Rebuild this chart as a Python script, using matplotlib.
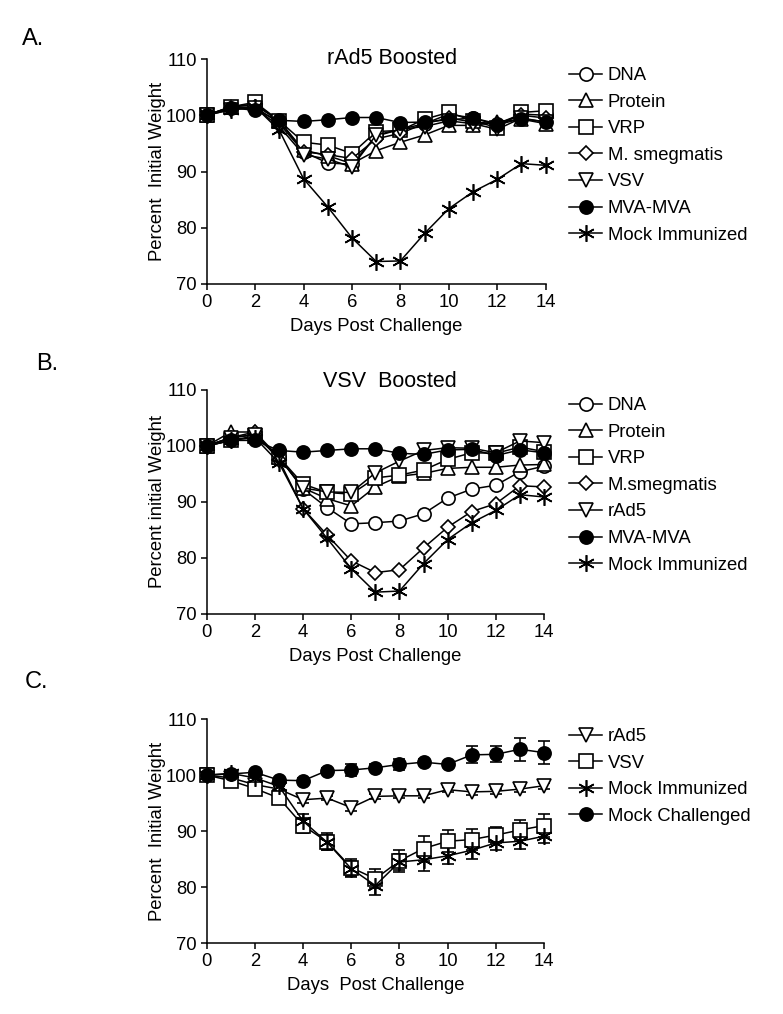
import matplotlib
matplotlib.use("Agg")
import matplotlib.pyplot as plt

plt.rcParams['font.family'] = ['Liberation Sans', 'DejaVu Sans']

days = list(range(15))

# panel A: rAd5 boosted
a_labels = ["DNA", "Protein", "VRP", "M. smegmatis", "VSV", "MVA-MVA", "Mock Immunized"]
a_dna = [100, 101.5, 101.8, 99, 93.5, 91.5, 91.3, 96.3, 97.5, 98.5, 100.2, 99.5, 98.5, 100.2, 100]
a_protein = [100, 101.5, 102, 99, 93.8, 92.8, 91.4, 93.7, 95.2, 96.5, 98.2, 98.2, 98.8, 99.3, 98.5]
a_vrp = [100, 101.5, 102.3, 99, 95.2, 94.7, 93.2, 97.1, 97.3, 99.3, 100.5, 99.0, 97.8, 100.5, 100.8]
a_smeg = [100, 101.3, 101.5, 98.5, 93.5, 93.0, 92.3, 95.8, 96.8, 98.5, 99.5, 98.8, 98.5, 100, 99.5]
a_vsv = [100, 101, 101.3, 98, 93, 92.2, 90.8, 96.5, 97.5, 98, 99, 98.5, 97.5, 99.5, 98.8]
a_mva = [100, 101.3, 100.9, 99.1, 98.9, 99.2, 99.6, 99.6, 98.7, 98.8, 99.2, 99.5, 98.3, 99.4, 98.8]
a_mock = [100, 101, 101.5, 97.3, 88.7, 83.7, 78.2, 74.0, 74.1, 79.0, 83.4, 86.4, 88.6, 91.4, 91.1]

# panel B: VSV boosted
b_labels = ["DNA", "Protein", "VRP", "M.smegmatis", "rAd5", "MVA-MVA", "Mock Immunized"]
b_dna = [100, 101.5, 102, 98, 92.3, 89.0, 86.1, 86.3, 86.6, 87.9, 90.7, 92.3, 93.0, 95.4, 96.4]
b_protein = [100, 102.5, 102.5, 98, 92.5, 90.6, 89.3, 92.7, 94.6, 95.1, 96.0, 96.2, 96.2, 96.6, 96.7]
b_vrp = [100, 101, 101.8, 98, 93.2, 91.7, 91.4, 94.3, 94.8, 95.7, 97.6, 98.8, 98.7, 99.8, 99.0]
b_smeg = [100, 101.5, 102.5, 97.5, 88.8, 84.1, 79.5, 77.4, 77.9, 81.8, 85.5, 88.3, 89.7, 92.9, 92.7]
b_rad5 = [100, 101.5, 102, 98, 92.5, 91.8, 91.7, 95.2, 97.3, 99.2, 99.7, 99.6, 98.8, 100.9, 100.6]
b_mva = [100, 101, 101, 99.2, 98.9, 99.2, 99.5, 99.5, 98.7, 98.5, 99.3, 99.4, 98.3, 99.3, 98.8]
b_mock = [100, 101, 101.5, 97, 88.8, 83.5, 78.1, 73.9, 74.1, 79.0, 83.3, 86.3, 88.5, 91.3, 90.9]

# panel C: means with error bars
c_labels = ["rAd5", "VSV", "Mock Immunized", "Mock Challenged"]
c_rad5 = [100, 99.5, 98.3, 97.5, 95.6, 95.9, 94.2, 96.2, 96.3, 96.3, 97.4, 97.0, 97.1, 97.5, 98.1]
c_rad5_err = [0.3, 0.4, 0.4, 0.5, 0.5, 0.4, 0.6, 0.5, 0.4, 0.4, 0.5, 0.5, 0.4, 0.5, 0.5]
c_vsv = [100, 99.0, 97.6, 95.9, 91.0, 88.1, 83.5, 81.5, 84.7, 86.9, 88.2, 88.5, 89.3, 90.2, 91.0]
c_vsv_err = [0.3, 0.4, 0.6, 0.8, 1.4, 1.5, 1.5, 1.7, 2.0, 2.2, 2.0, 1.9, 1.5, 1.8, 2.0]
c_mock = [100, 100.3, 99.5, 98.0, 91.8, 88.0, 83.3, 80.3, 84.5, 84.9, 85.6, 86.6, 87.9, 88.2, 89.1]
c_mock_err = [0.3, 0.4, 0.5, 0.7, 1.2, 1.3, 1.4, 1.6, 1.5, 2.0, 1.5, 1.5, 1.2, 1.3, 1.2]
c_chal = [100, 100.2, 100.5, 99.1, 99.0, 100.8, 100.9, 101.3, 101.9, 102.3, 101.9, 103.6, 103.7, 104.6, 104.0]
c_chal_err = [0.3, 0.4, 0.4, 0.4, 0.4, 0.5, 1.1, 0.6, 1.0, 0.5, 0.5, 1.5, 1.4, 2.1, 2.0]

FS = 13.3
MS = 9.5
ASTER = (6, 2, 0)

W, H = 783, 1014
fig = plt.figure(figsize=(W / 100, H / 100), dpi=100)


def px_axes(x0, x1, y_top, y_bot):
    return fig.add_axes([x0 / W, 1 - y_bot / H, (x1 - x0) / W, (y_bot - y_top) / H])


def style(ax, ylabel, xlabel):
    ax.set_xlim(0, 14)
    ax.set_ylim(70, 110)
    ax.set_xticks(range(0, 15, 2))
    ax.set_yticks([70, 80, 90, 100, 110])
    for s in ("top", "right"):
        ax.spines[s].set_visible(False)
    for s in ("left", "bottom"):
        ax.spines[s].set_linewidth(1.1)
    ax.tick_params(direction="out", length=4, width=1.1, labelsize=FS, pad=3)
    ax.set_ylabel(ylabel, fontsize=FS)
    ax.set_xlabel(xlabel, fontsize=FS, labelpad=5)
    ax.yaxis.set_label_coords(-0.12, 0.5)


def line(ax, y, marker, label, filled=False, ms=MS):
    ax.plot(days, y, marker=marker, color="black", lw=1.1, ms=ms,
            mfc="black" if filled else "white", mec="black", mew=1.2,
            label=label, clip_on=False)


def legend(ax, ytop, handles=None):
    kw = dict(loc="upper left", bbox_to_anchor=(569 / W, 1 - ytop / H),
              bbox_transform=fig.transFigure, frameon=False, fontsize=FS,
              handlelength=1.8, handletextpad=0.3, labelspacing=0.52,
              borderpad=0, borderaxespad=0, numpoints=1)
    if handles is not None:
        ax.legend(handles=handles, **kw)
    else:
        ax.legend(**kw)


# A
ax = px_axes(206.7, 545.7, 59, 284)
line(ax, a_dna, "o", a_labels[0])
line(ax, a_protein, "^", a_labels[1])
line(ax, a_vrp, "s", a_labels[2])
line(ax, a_smeg, "D", a_labels[3], ms=7.5)
line(ax, a_vsv, "v", a_labels[4])
line(ax, a_mva, "o", a_labels[5], filled=True)
line(ax, a_mock, ASTER, a_labels[6], ms=12)
style(ax, "Percent  Initial Weight", "Days Post Challenge")
legend(ax, 67)
fig.text(392 / W, 1 - 58 / H, "rAd5 Boosted", fontsize=15.5, ha="center", va="center")
fig.text(22 / W, 1 - 39 / H, "A.", fontsize=17, ha="left", va="center")

# B
ax = px_axes(206.7, 544, 390, 614)
line(ax, b_dna, "o", b_labels[0])
line(ax, b_protein, "^", b_labels[1])
line(ax, b_vrp, "s", b_labels[2])
line(ax, b_smeg, "D", b_labels[3], ms=7.5)
line(ax, b_rad5, "v", b_labels[4])
line(ax, b_mva, "o", b_labels[5], filled=True)
line(ax, b_mock, ASTER, b_labels[6], ms=12)
style(ax, "Percent initial Weight", "Days Post Challenge")
legend(ax, 397)
fig.text(390 / W, 1 - 382 / H, "VSV  Boosted", fontsize=15.5, ha="center", va="center")
fig.text(36 / W, 1 - 364.5 / H, "B.", fontsize=17, ha="left", va="center")

# C
ax = px_axes(206.7, 544, 719, 943.3)
ekw = dict(color="black", lw=1.1, elinewidth=1.1, capsize=4.5, capthick=1.1,
           mec="black", mew=1.2, clip_on=False)
e1 = ax.errorbar(days, c_rad5, yerr=c_rad5_err, fmt="-v", ms=MS, mfc="white", label=c_labels[0], **ekw)
e2 = ax.errorbar(days, c_vsv, yerr=c_vsv_err, fmt="-s", ms=MS, mfc="white", label=c_labels[1], **ekw)
e3 = ax.errorbar(days, c_mock, yerr=c_mock_err, fmt="-", marker=ASTER, ms=12, mfc="white", label=c_labels[2], **ekw)
e4 = ax.errorbar(days, c_chal, yerr=c_chal_err, fmt="-o", ms=MS, mfc="black", label=c_labels[3], **ekw)
style(ax, "Percent  Initial Weight", "Days  Post Challenge")
hs = []
for e, lab in zip([e1, e2, e3, e4], c_labels):
    e.lines[0].set_label(lab)
    hs.append(e.lines[0])
legend(ax, 728, handles=hs)
fig.text(25 / W, 1 - 682 / H, "C.", fontsize=17, ha="left", va="center")

fig.savefig("out.png", dpi=100)
